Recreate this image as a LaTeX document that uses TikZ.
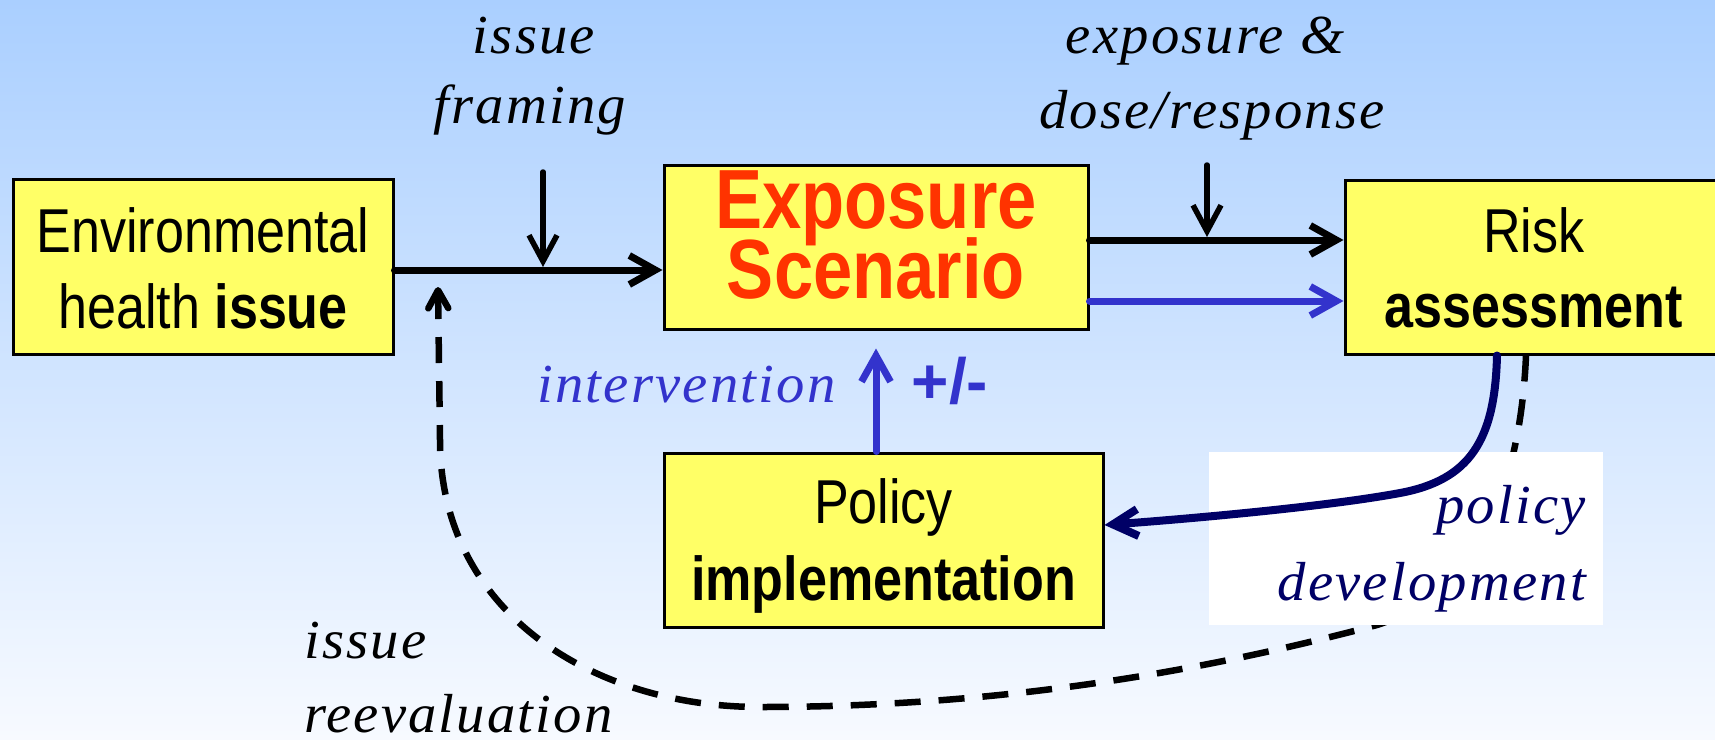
\documentclass[tikz,border=0pt]{standalone}
\usepackage{fontspec}
\usetikzlibrary{arrows.meta}

% narrow sans for the stage boxes, slightly widened italic serif for the notes
\newfontfamily\boxfont[FakeStretch=0.84]{Liberation Sans}
\newfontfamily\signfont{Liberation Sans}
\newfontfamily\notefont[LetterSpace=4, FakeStretch=1.03]{Liberation Serif Italic}

\definecolor{skytop}{RGB}{170,207,255}
\definecolor{skybottom}{RGB}{247,250,255}
\definecolor{boxyellow}{RGB}{255,255,102}
\definecolor{scenred}{RGB}{255,51,0}
\definecolor{ivblue}{RGB}{51,51,204}
\definecolor{navy}{RGB}{0,0,102}

\begin{document}
\begin{tikzpicture}[x=1pt,y=-1pt,
  stage/.style={draw=black, line width=3pt, fill=boxyellow, inner sep=0pt},
  boxtxt/.style={font=\boxfont\fontsize{62}{76}\selectfont, anchor=base, inner sep=0pt},
  scentxt/.style={font=\boxfont\bfseries\fontsize{84}{84}\selectfont, text=scenred, anchor=base, inner sep=0pt},
  note/.style={font=\notefont\fontsize{55}{70}\selectfont, anchor=base, inner sep=0pt},
  heavy arrow/.style={line width=7pt, line cap=round, line join=round,
    -{Straight Barb[length=26pt,width=29pt]}},
  light arrow/.style={line width=5.5pt, line cap=round, line join=round,
    -{Straight Barb[length=26pt,width=28pt]}},
  policy arrow/.style={navy, line width=8pt, line cap=round, line join=round,
    -{Straight Barb[length=25pt,width=27pt]}},
  loop arrow/.style={line width=6.5pt, dash pattern=on 26pt off 18pt,
    -{Straight Barb[length=18pt,width=20pt,line cap=round,line join=round]}}
]
\useasboundingbox (0,0) rectangle (1715,739);
\clip (0,0) rectangle (1715,739);

% sky-blue backdrop fading to white
\shade[top color=skytop, bottom color=skybottom] (0,0) rectangle (1715,739);

% stage boxes
\node[stage, minimum width=380pt, minimum height=175pt] (env)  at (203,266.5) {};
\node[stage, minimum width=424pt, minimum height=164pt] (exp)  at (876,247) {};
\node[stage, minimum width=378pt, minimum height=174pt] (risk) at (1534,267) {};
\node[stage, minimum width=439pt, minimum height=174pt] (pol)  at (883.5,540) {};

\node[boxtxt] (envA) at (203,252) {Environmental};
\node[boxtxt] (envB) at (203,328) {health \textbf{issue}};
\node[scentxt] (expA) at (876,228) {Exposure};
\node[scentxt] (expB) at (876,298) {Scenario};
\node[boxtxt] (riskA) at (1534,252) {Risk};
\node[boxtxt] (riskB) at (1534,327) {\textbf{assessment}};
\node[boxtxt] (polA) at (883.5,523) {Policy};
\node[boxtxt] (polB) at (883.5,600) {\textbf{implementation}};

% feedback loop back to the issue
\coordinate (reevaltip) at (438,287);
\draw[loop arrow] ([xshift=-8pt]risk.south)
  .. controls (1518,540) and (1440,605) .. (1377,625)
  .. controls (1200,672) and (1000,707) .. (760,707)
  .. controls (590,707) and (440,610) .. (440,440)
  -- (reevaltip);

% white panel behind the policy development note
\node[fill=white, inner sep=0pt, minimum width=394pt, minimum height=173pt] (pdbox) at (1406,538.5) {};

% policy development
\draw[policy arrow] ([xshift=-37pt]risk.south)
  .. controls (1495,440) and (1470,480) .. (1400,493)
  .. controls (1330,506) and (1200,518) .. (pol.east |- 0,525);

% main chain
\coordinate (rowA) at (0,270);
\coordinate (rowB) at (0,240);
\coordinate (rowC) at (0,301);
\draw[heavy arrow] (env.east |- rowA) -- (exp.west |- rowA);
\draw[heavy arrow] (exp.east |- rowB) -- (risk.west |- rowB);
\draw[heavy arrow, ivblue] (exp.east |- rowC) -- (risk.west |- rowC);

% inputs from above
\coordinate (framingtop) at (543,172);
\coordinate (framingtip) at (543,267);
\draw[light arrow] (framingtop) -- (framingtip);
\coordinate (dosetop) at (1207,165);
\coordinate (dosetip) at (1207,237);
\draw[light arrow] (dosetop) -- (dosetip);

% intervention
\draw[heavy arrow, ivblue] (exp.south |- pol.north) -- ([yshift=-18pt]exp.south);

% notes
\node[note] (ifA) at (534,53) {issue};
\node[note] (ifB) at (530,123) {framing};
\node[note] (edA) at (1205,53) {exposure \&};
\node[note] (edB) at (1212,128) {dose/response};
\node[note, text=ivblue] (iv) at (686.5,402) {intervention};
\node[font=\signfont\bfseries\fontsize{64}{64}\selectfont, text=ivblue, anchor=base, inner sep=0pt] (sign) at (950,403) {+/-};
\node[note, anchor=base east, text=navy] (pdA) at (1586,523) {policy};
\node[note, anchor=base east, text=navy] (pdB) at (1586,600) {development};
\node[note, anchor=base west] (irA) at (304,658) {issue};
\node[note, anchor=base west] (irB) at (304,732) {reevaluation};
\end{tikzpicture}
\end{document}
